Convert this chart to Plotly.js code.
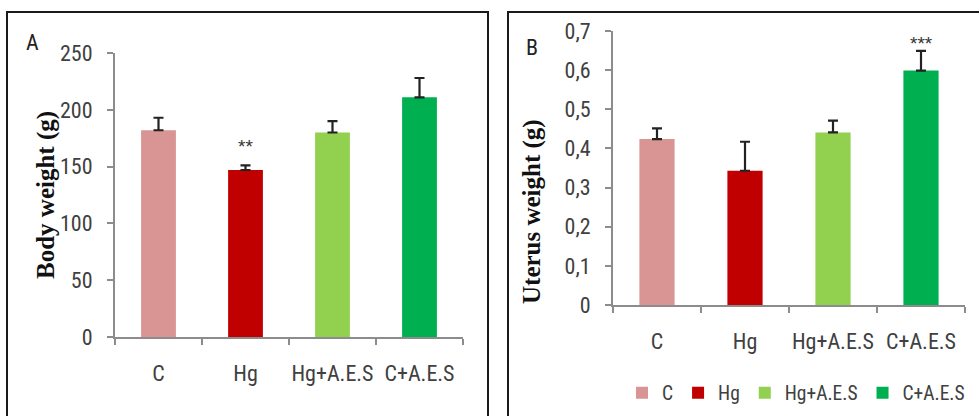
<!DOCTYPE html>
<html>
<head>
<meta charset="utf-8">
<script src="https://cdn.plot.ly/plotly-3.0.1.min.js"></script>
<style>html,body{margin:0;padding:0;background:#fff;}#chart{width:979px;height:416px;}</style>
</head>
<body>
<div id="chart"></div>
<script>
// ---- data ----
var categories = ["C", "Hg", "Hg+A.E.S", "C+A.E.S"];
var colors = ["#D99594", "#C00000", "#92D050", "#00B050"];
var bodyWeight = [182, 147, 180, 211];
var bodyWeightErr = [11, 4, 10, 17];
var bodyStars = ["", "**", "", ""];
var bodyStarY = [0, 168, 0, 0];
var uterusWeight = [0.424, 0.343, 0.441, 0.599];
var uterusWeightErr = [0.027, 0.074, 0.030, 0.050];
var uterusStars = ["", "", "", "***"];
var uterusStarY = [0, 0, 0, 0.667];

var W = 979, H = 416;
function px(x){ return x / W; }
function py(y){ return 1 - y / H; }

var fam = "'Liberation Sans Narrow', 'Roboto Condensed', 'Liberation Sans', sans-serif";
var tickFont = {family: fam, size: 22, color: "#404040"};
var legendFont = {family: fam, size: 19.5, color: "#404040"};
var titleFont = {family: "'Liberation Serif', 'Times New Roman', serif", size: 25, color: "#111"};
var starFont = {family: "'Liberation Sans', sans-serif", size: 19, color: "#333"};

var traces = [];
categories.forEach(function(cat, i){
  traces.push({
    type: "bar", x: [cat], y: [bodyWeight[i]], name: cat,
    xaxis: "x", yaxis: "y", width: 0.4,
    marker: {color: colors[i]},
    error_y: {type: "data", array: [bodyWeightErr[i]], symmetric: false, arrayminus: [0], color: "#222", thickness: 2.2, width: 5},
    showlegend: false, hoverinfo: "skip"
  });
});
categories.forEach(function(cat, i){
  traces.push({
    type: "bar", x: [cat], y: [uterusWeight[i]], name: cat,
    xaxis: "x2", yaxis: "y2", width: 0.4,
    marker: {color: colors[i]},
    error_y: {type: "data", array: [uterusWeightErr[i]], symmetric: false, arrayminus: [0], color: "#222", thickness: 2.2, width: 5},
    showlegend: true, hoverinfo: "skip"
  });
});

var annotations = [];
categories.forEach(function(cat, i){
  if (bodyStars[i]) annotations.push({xref: "x", yref: "y", x: cat, y: bodyStarY[i], text: bodyStars[i], showarrow: false, xanchor: "center", yanchor: "middle", font: starFont});
  if (uterusStars[i]) annotations.push({xref: "x2", yref: "y2", x: cat, y: uterusStarY[i], text: uterusStars[i], showarrow: false, xanchor: "center", yanchor: "middle", font: starFont});
});
annotations.push({xref: "paper", yref: "paper", x: px(46), y: py(195), xanchor: "center", yanchor: "middle", text: "<b>Body weight (g)</b>", textangle: -90, showarrow: false, font: titleFont});
annotations.push({xref: "paper", yref: "paper", x: px(532), y: py(212), xanchor: "center", yanchor: "middle", text: "<b>Uterus weight (g)</b>", textangle: -90, showarrow: false, font: titleFont});
annotations.push({xref: "paper", yref: "paper", x: px(32), y: py(43), xanchor: "center", yanchor: "middle", text: "A", showarrow: false, font: {family: fam, size: 22, color: "#222"}});
annotations.push({xref: "paper", yref: "paper", x: px(532), y: py(47), xanchor: "center", yanchor: "middle", text: "B", showarrow: false, font: {family: fam, size: 22, color: "#222"}});

var axisX = {
  type: "category", categoryorder: "array", categoryarray: categories,
  range: [-0.5, 3.5], tickson: "boundaries", ticks: "outside", ticklen: 6, tickwidth: 2, tickcolor: "#8c8c8c",
  showline: true, linecolor: "#8c8c8c", linewidth: 2, showgrid: false, zeroline: false,
  tickfont: tickFont, tickangle: 0, ticklabelstandoff: 16, automargin: false, fixedrange: true
};
var axisY = {
  ticks: "outside", ticklen: 6, tickwidth: 2, tickcolor: "#8c8c8c",
  showline: true, linecolor: "#8c8c8c", linewidth: 2, showgrid: false, zeroline: false,
  tickfont: tickFont, ticklabelstandoff: 10, automargin: false, fixedrange: true
};

var layout = {
  width: W, height: H,
  margin: {l: 0, r: 0, t: 0, b: 0, autoexpand: false},
  paper_bgcolor: "#fff", plot_bgcolor: "#fff",
  separators: ", ",
  barmode: "overlay",
  xaxis: Object.assign({}, axisX, {domain: [px(115), px(463)], anchor: "y"}),
  yaxis: Object.assign({}, axisY, {domain: [py(337), py(53)], range: [0, 250], dtick: 50, anchor: "x"}),
  xaxis2: Object.assign({}, axisX, {domain: [px(613), px(965)], anchor: "y2"}),
  yaxis2: Object.assign({}, axisY, {domain: [py(305), py(31)], range: [0, 0.7], dtick: 0.1, anchor: "x2"}),
  showlegend: true,
  legend: {orientation: "h", x: px(622), xanchor: "left", y: py(393), yanchor: "middle", font: legendFont, itemwidth: 30, tracegroupgap: 0, bgcolor: "rgba(0,0,0,0)"},
  annotations: annotations,
  shapes: [
    {type: "rect", xref: "paper", yref: "paper", x0: px(7), x1: px(488), y0: py(12), y1: py(430), line: {color: "#1a1a1a", width: 2}},
    {type: "rect", xref: "paper", yref: "paper", x0: px(508), x1: px(985), y0: py(12), y1: py(430), line: {color: "#1a1a1a", width: 2}}
  ]
};

Plotly.newPlot("chart", traces, layout, {displayModeBar: false, staticPlot: true});
</script>
</body>
</html>
